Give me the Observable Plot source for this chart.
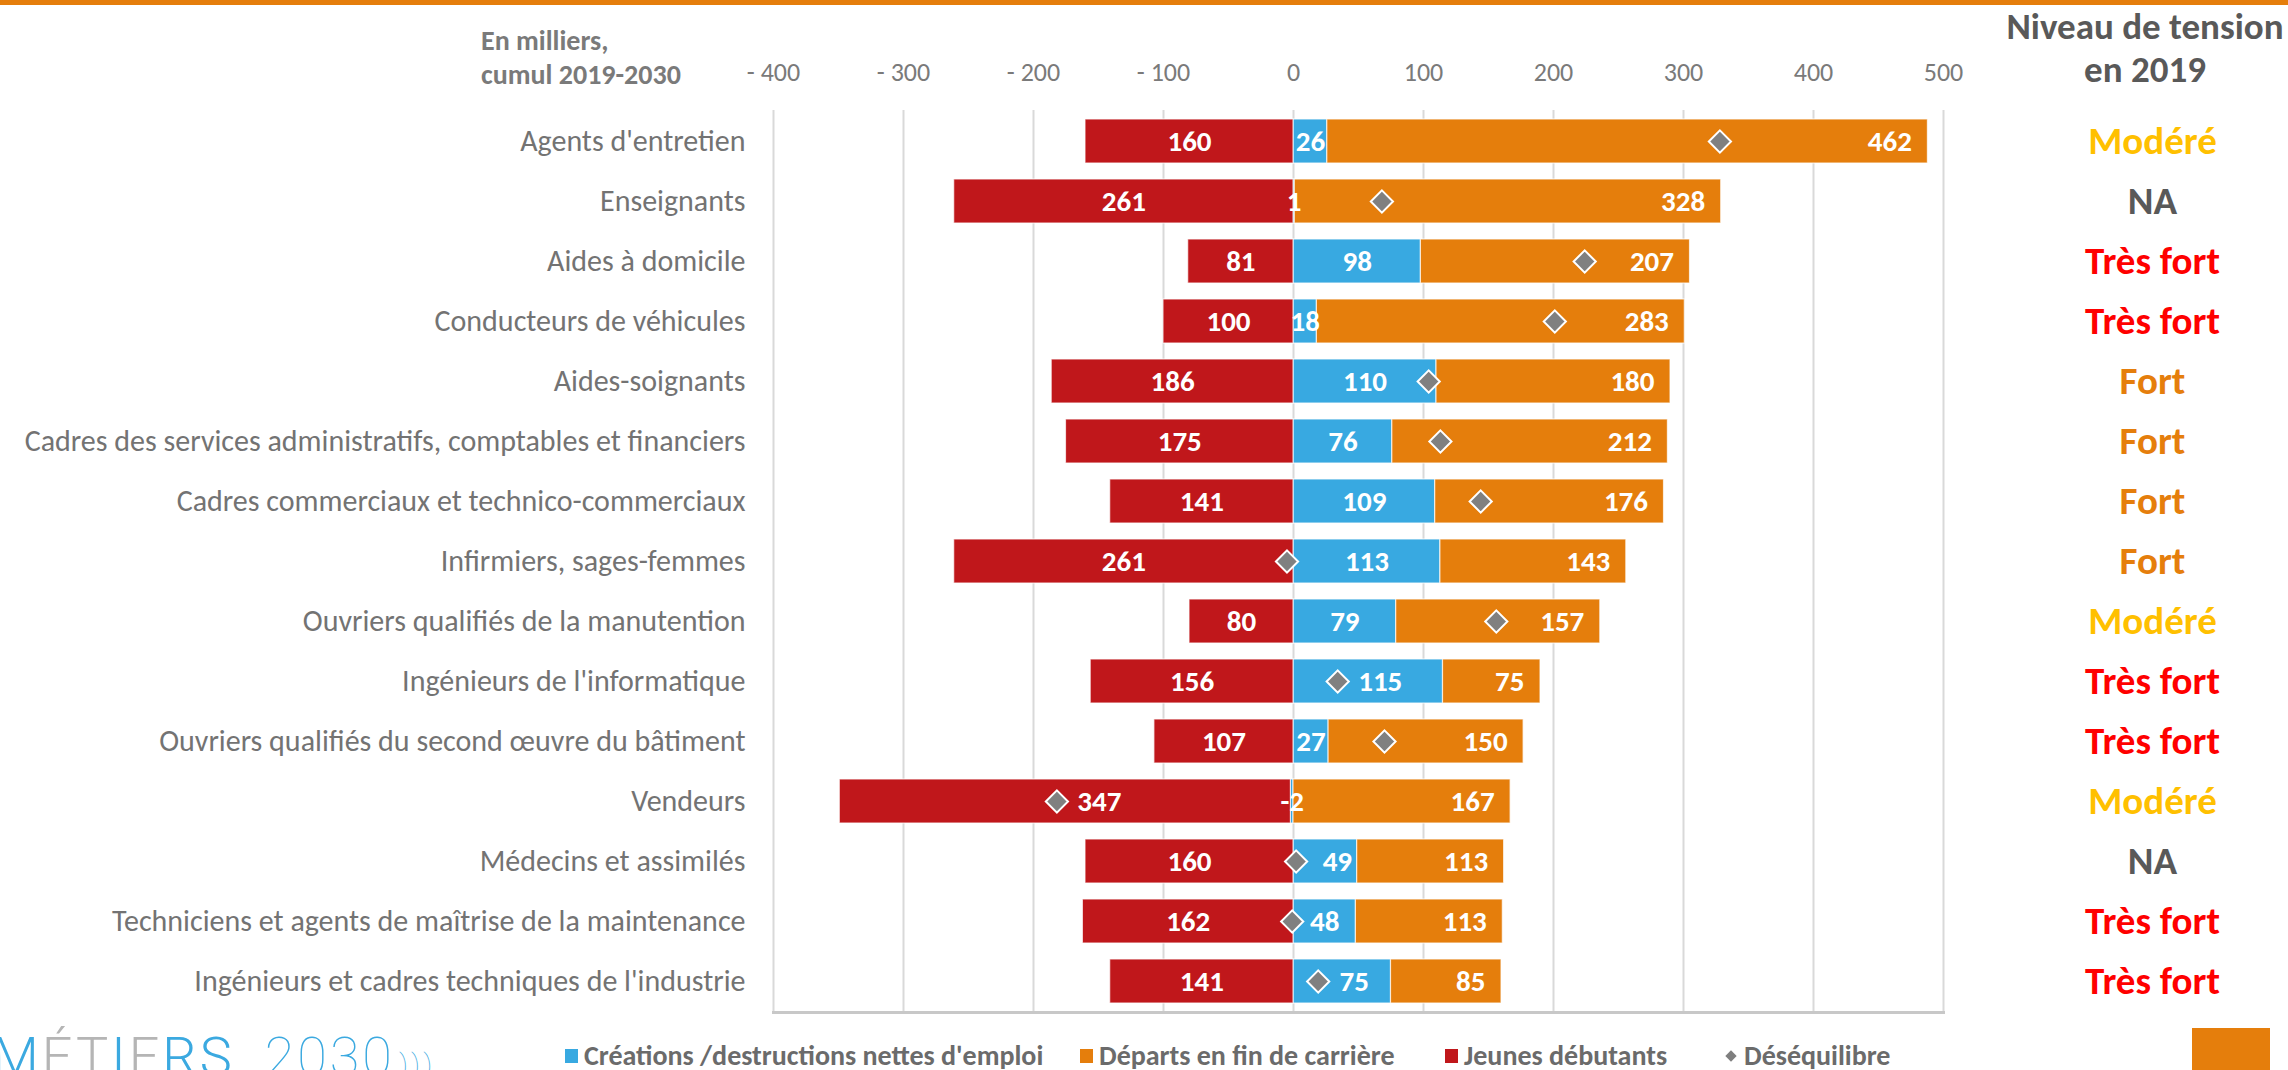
<!DOCTYPE html>
<html>
<head>
<meta charset="utf-8">
<script src="https://cdn.jsdelivr.net/npm/d3@7"></script>
<script src="https://cdn.jsdelivr.net/npm/@observablehq/plot@0.6"></script>
<style>
  html, body { margin: 0; padding: 0; width: 2288px; height: 1070px; overflow: hidden; background: #fff; }
  body { position: relative; font-family: "Carlito", "Liberation Sans Narrow", "Lato", sans-serif; }
  .abs { position: absolute; white-space: nowrap; }
  #topbar { left: 0; top: 0; width: 2288px; height: 5px; background: #E57E0C; }
  #unit { left: 481px; top: 24px; font-size: 28px; font-weight: bold; color: #7a7a7a; line-height: 34px; }
  #tension-title { left: 1990px; width: 310px; top: 5px; text-align: center; font-size: 37px; font-weight: bold; color: #595959; line-height: 43px; }
  #chart { left: 0; top: 0; }
  .leg { top: 1038px; font-size: 28px; font-weight: bold; color: #6b6b6b; display: flex; align-items: center; }
  .leg .sw { width: 13px; height: 14px; margin-right: 6px; }
  #orangebox { left: 2192px; top: 1028px; width: 78px; height: 42px; background: #E57E0C; }
  #logo { left: -8px; top: 1030px; font-family: "Roboto", sans-serif; font-weight: 300; font-size: 54px; letter-spacing: 3px; line-height: 54px; }
</style>
</head>
<body>
<div id="topbar" class="abs"></div>
<div id="chart" class="abs"></div>
<div id="unit" class="abs">En milliers,<br>cumul 2019-2030</div>
<div id="tension-title" class="abs">Niveau de tension<br>en 2019</div>
<div id="legend"></div>
<div id="orangebox" class="abs"></div>
<div id="logo" class="abs"><span style="color:#3BA9E0">M</span><span style="color:#b5b5b5">É</span><span style="color:#b5b5b5">T</span><span style="color:#3BA9E0">I</span><span style="color:#b5b5b5">E</span><span style="color:#3BA9E0">R</span><span style="color:#3BA9E0">S</span><span style="color:#3BA9E0;font-weight:100;margin-left:30px">2030</span><span style="color:#3BA9E0;font-size:30px;font-weight:100;margin-left:4px">)))</span></div>
<script>
const categories = [
  "Agents d'entretien",
  "Enseignants",
  "Aides à domicile",
  "Conducteurs de véhicules",
  "Aides-soignants",
  "Cadres des services administratifs, comptables et financiers",
  "Cadres commerciaux et technico-commerciaux",
  "Infirmiers, sages-femmes",
  "Ouvriers qualifiés de la manutention",
  "Ingénieurs de l'informatique",
  "Ouvriers qualifiés du second œuvre du bâtiment",
  "Vendeurs",
  "Médecins et assimilés",
  "Techniciens et agents de maîtrise de la maintenance",
  "Ingénieurs et cadres techniques de l'industrie"
];
const creations = [26, 1, 98, 18, 110, 76, 109, 113, 79, 115, 27, -2, 49, 48, 75];
const departs = [462, 328, 207, 283, 180, 212, 176, 143, 157, 75, 150, 167, 113, 113, 85];
const jeunes = [160, 261, 81, 100, 186, 175, 141, 261, 80, 156, 107, 347, 160, 162, 141];
const desequilibre = [328, 68, 224, 201, 104, 113, 144, -5, 156, 34, 70, -182, 2, -1, 19];
const tension = ["Modéré", "NA", "Très fort", "Très fort", "Fort", "Fort", "Fort", "Fort", "Modéré", "Très fort", "Très fort", "Modéré", "NA", "Très fort", "Très fort"];
const xTicks = [-400, -300, -200, -100, 0, 100, 200, 300, 400, 500];

const seriesNames = ["Créations /destructions nettes d'emploi", "Départs en fin de carrière", "Jeunes débutants", "Déséquilibre"];
const seriesColors = ["#38A9E1", "#E57E0C", "#C0171B", "#7F7F7F"];
const tensionColors = {"Modéré": "#FFC000", "NA": "#595959", "Très fort": "#FF0000", "Fort": "#E57E0C"};

// long table; "shift" tells whether a segment label must move to clear the diamond
const rows = [];
categories.forEach((c, i) => {
  const vals = [creations[i], departs[i], -jeunes[i]];
  const labels = [creations[i], departs[i], jeunes[i]];
  let pos = 0, neg = 0;
  vals.forEach((v, s) => {
    const lo = v >= 0 ? pos : neg + v;
    const hi = v >= 0 ? pos + v : neg;
    if (v >= 0) pos += v; else neg += v;
    const gap = Math.abs(desequilibre[i] - (lo + hi) / 2);
    const shift = s === 1 ? 0 : gap < 10 ? 2 : gap < 24 ? 1 : 0;
    rows.push({cat: c, serie: s, value: v, label: String(labels[s]), shift});
  });
});
const des = categories.map((c, i) => ({cat: c, value: desequilibre[i]}));
const tens = categories.map((c, i) => ({cat: c, level: tension[i]}));

const fontStack = '"Carlito", "Liberation Sans Narrow", "Lato", sans-serif';
const stackOpts = {x: "value", y: "cat", z: "serie", order: null};
const lab = {fill: "white", fontWeight: "bold", fontSize: 29};

const chart = Plot.plot({
  width: 2288,
  height: 1014,
  marginTop: 110,
  marginBottom: 2,
  marginLeft: 773,
  marginRight: 345,
  style: {fontFamily: fontStack, background: "transparent", overflow: "visible"},
  x: {domain: [-400, 500], ticks: xTicks},
  y: {domain: categories, paddingInner: 0.27, paddingOuter: 0.135, label: null},
  color: {type: "identity"},
  marks: [
    Plot.gridX(xTicks, {stroke: "#d9d9d9", strokeOpacity: 1, strokeWidth: 2}),
    Plot.frame({anchor: "bottom", stroke: "#c8c8c8", strokeWidth: 3}),
    Plot.barX(rows, Plot.stackX({...stackOpts, fill: d => seriesColors[d.serie], stroke: "#ffffff", strokeWidth: 1.2, strokeOpacity: 0.7})),
    Plot.text(rows, Plot.stackX({...stackOpts, ...lab, text: d => d.serie !== 1 && d.shift === 0 ? d.label : ""})),
    Plot.text(rows, Plot.stackX({...stackOpts, ...lab, dx: 12, text: d => d.serie !== 1 && d.shift === 1 ? d.label : ""})),
    Plot.text(rows, Plot.stackX({...stackOpts, ...lab, dx: 34, text: d => d.serie !== 1 && d.shift === 2 ? d.label : ""})),
    Plot.text(rows, Plot.stackX2({...stackOpts, ...lab, text: d => d.serie === 1 ? d.label : "", textAnchor: "end", dx: -16})),
    Plot.dot(des, {x: "value", y: "cat", symbol: "diamond2", r: 10, fill: "#808080", stroke: "white", strokeWidth: 2}),
    Plot.axisX({anchor: "top", ticks: xTicks, tickSize: 0, tickPadding: 30, tickFormat: d => d < 0 ? "- " + (-d) : String(d), fontSize: 26, fill: "#7a7a7a", label: null}),
    Plot.axisY({tickSize: 0, tickPadding: 28, fontSize: 30, fill: "#737373", label: null}),
    Plot.text(tens, {y: "cat", text: "level", frameAnchor: "right", dx: 209, textAnchor: "middle", fill: d => tensionColors[d.level], fontWeight: "bold", fontSize: 39})
  ]
});
document.getElementById("chart").appendChild(chart);

const legX = [565, 1080, 1445, 1727];
const legend = document.getElementById("legend");
seriesNames.forEach((name, i) => {
  const item = document.createElement("div");
  item.className = "leg abs";
  item.style.left = legX[i] + "px";
  const sw = document.createElement("span");
  sw.className = "sw";
  sw.style.background = seriesColors[i];
  if (i === 3) { sw.style.width = "8px"; sw.style.height = "8px"; sw.style.transform = "rotate(45deg)"; sw.style.marginRight = "9px"; }
  item.appendChild(sw);
  const t = document.createElement("span");
  t.textContent = name;
  item.appendChild(t);
  legend.appendChild(item);
});
</script>
</body>
</html>
